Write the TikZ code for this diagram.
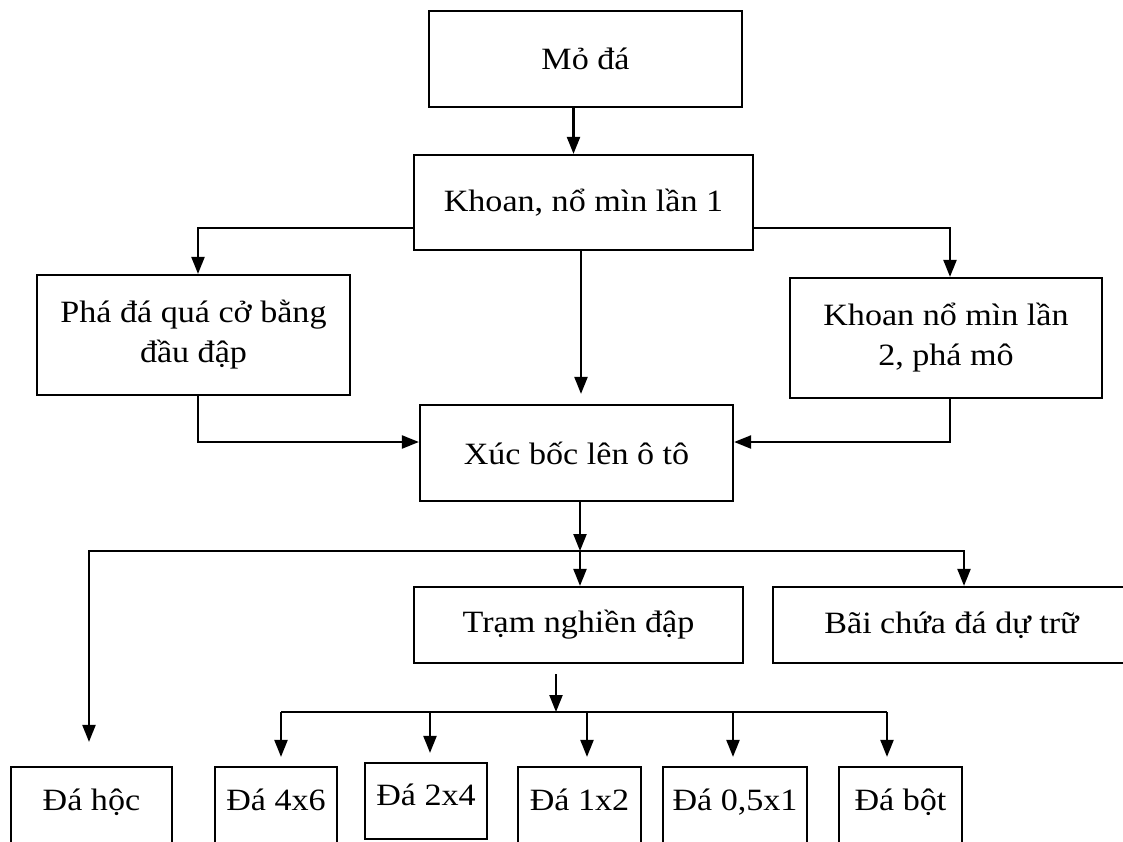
\documentclass[tikz,border=0pt]{standalone}
\usepackage{fontspec}
\setmainfont[FakeStretch=1.1]{Liberation Serif}
\usetikzlibrary{arrows.meta, positioning, calc}

\begin{document}
\begin{tikzpicture}[x=1pt, y=-1pt, >={Triangle[length=17pt, width=13pt]}, line width=2.2pt,
  every node/.style={font=\fontsize{31}{40}\selectfont},
  box/.style={draw, rectangle, inner sep=3pt, align=center, minimum width=#1},
  stonebox/.style={draw, rectangle, inner sep=3pt, align=center, minimum width=#1,
    minimum height=78pt, text height=22pt, text depth=14pt}]
  \useasboundingbox (0,0) rectangle (1123,841);
  \clip (0,0) rectangle (1123,841);
  % main chain
  \node[box=313pt, minimum height=96pt] (mo) at (585.5,59) {Mỏ đá};
  \node[box=339pt, minimum height=95pt] (khoan1) at (583.5,202.5) {Khoan, nổ mìn lần 1};
  \node[box=313pt, minimum height=120pt] (pha) at (193.5,335) {Phá đá quá cở bằng\\đầu đập};
  \node[box=312pt, minimum height=120pt] (khoan2) at (946,338) {Khoan nổ mìn lần\\2, phá mô};
  \node[box=313pt, minimum height=96pt] (xuc) at (576.5,453) {Xúc bốc lên ô tô};
  \node[box=329pt, minimum height=76pt] (tram) at (578.5,625) {Trạm nghiền đập};
  \node[box=357pt, minimum height=76pt] (bai) at (951.5,625) {Bãi chứa đá dự trữ};
  % products
  \node[stonebox=161pt] (hoc) at (91.5,806) {Đá hộc};
  \node[stonebox=122pt] (d46) at (276,806) {Đá 4x6};
  \node[stonebox=122pt, minimum height=76pt] (d24) at (426,801) {Đá 2x4};
  \node[stonebox=123pt] (d12) at (579.5,806) {Đá 1x2};
  \node[stonebox=144pt] (d05) at (735,806) {Đá 0,5x1};
  \node[stonebox=123pt] (dbot) at (900.5,806) {Đá bột};

  \draw[->] ([xshift=-12pt]mo.south) -- ([xshift=-10pt]khoan1.north);
  \draw[->] ([yshift=-25.5pt]khoan1.west) -| ([xshift=4.5pt]pha.north);
  \draw[->] ([yshift=-25.5pt]khoan1.east) -| ([xshift=4pt]khoan2.north);
  \coordinate (c1) at ([xshift=-2.5pt]khoan1.south);
  \draw[->, shorten >=10pt] (c1) -- (c1 |- xuc.north);
  \draw[->] ([xshift=4.5pt]pha.south) |- ([yshift=11pt]xuc.west);
  \draw[->] ([xshift=4pt]khoan2.south) |- ([yshift=11pt]xuc.east);

  \coordinate (j1) at (580,551);
  \draw[->] (xuc.south -| j1) -- (j1);
  \draw[->] (j1) -- (j1 |- tram.north);
  \draw[->, shorten >=24pt] (j1) -| ([xshift=-2.5pt]hoc.north);
  \draw[->] (j1) -| ([xshift=12.5pt]bai.north);

  \coordinate (j2) at (556,712);
  \draw[->, shorten <=10pt] (tram.south -| j2) -- (j2);
  \foreach \n/\dx in {d46/5, d24/4, d12/7.5, d05/-2, dbot/-13.5} {
    \coordinate (t\n) at ([xshift=\dx pt]\n.north);
    \draw[->, shorten >=9pt] (t\n |- j2) -- (t\n);
  }
  \draw (td46 |- j2) -- (tdbot |- j2);
\end{tikzpicture}
\end{document}
